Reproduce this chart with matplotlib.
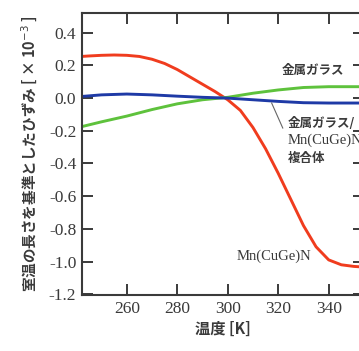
import matplotlib
matplotlib.use("Agg")
import matplotlib.pyplot as plt

# temperature [K] and strain values (x 10^-3)
temps = [242, 245, 250, 255, 260, 265, 270, 275, 280, 285, 290, 295, 300,
         305, 310, 315, 320, 325, 330, 335, 340, 345, 350, 355]
mn_cuge_n = [0.255, 0.258, 0.262, 0.264, 0.262, 0.255, 0.238, 0.212, 0.175, 0.13,
             0.085, 0.04, -0.01, -0.075, -0.18, -0.31, -0.46, -0.62, -0.78, -0.91,
             -0.99, -1.02, -1.03, -1.035]

temps_other = [242, 250, 260, 270, 280, 290, 300, 310, 320, 330, 340, 355]
metal_glass = [-0.175, -0.145, -0.11, -0.07, -0.035, -0.01, 0.005, 0.03, 0.05, 0.065, 0.07, 0.07]
composite = [0.01, 0.02, 0.025, 0.02, 0.012, 0.005, 0.0, -0.01, -0.02, -0.028, -0.03, -0.03]

xticks = [260, 280, 300, 320, 340]
yticks = [0.4, 0.2, 0.0, -0.2, -0.4, -0.6, -0.8, -1.0, -1.2]

jp = ['Noto Sans CJK JP', 'DejaVu Sans']
serif = 'Liberation Serif'
ink = '#3a3a3a'

fig = plt.figure(figsize=(3.59, 3.51), dpi=100)
ax = fig.add_axes([0.228, 0.1595, 0.786, 0.803])

ax.plot(temps, mn_cuge_n, color='#f03c1e', lw=2.1)
ax.plot(temps_other, metal_glass, color='#5ec23c', lw=2.1)
ax.plot(temps_other, composite, color='#1e3aa6', lw=2.1)

ax.set_xlim(242.2, 354)
ax.set_ylim(-1.205, 0.52)
ax.set_xticks(xticks)
ax.set_yticks(yticks)
ax.set_xticklabels([str(t) for t in xticks], family=serif, fontsize=12.5, color=ink)
ax.set_yticklabels(['%.1f' % v for v in yticks], family=serif, fontsize=12.5, color=ink)
ax.tick_params(direction='in', length=8, width=1.4, color=ink,
               top=True, right=True, pad=4)
for s in ax.spines.values():
    s.set_linewidth(1.5)
    s.set_color(ink)

ax.set_xlabel('温度 [K]', family=jp, fontsize=11, color=ink, fontweight='bold', labelpad=3)
ax.set_ylabel('室温の長さを基準としたひずみ [ × 10$^{-3}$ ]', family=jp, fontsize=10.5,
              color=ink, fontweight='bold', labelpad=6)

ax.text(346.3, 0.171, '金属ガラス', family=jp, fontsize=9, color=ink,
        ha='right', va='center', fontweight='bold')
ax.text(323.8, -0.153, '金属ガラス/', family=jp, fontsize=9, color=ink,
        ha='left', va='center', fontweight='bold')
ax.text(323.8, -0.257, 'Mn(CuGe)N', family=serif, fontsize=10.5, color=ink,
        ha='left', va='center')
ax.text(323.8, -0.367, '複合体', family=jp, fontsize=9, color=ink,
        ha='left', va='center', fontweight='bold')
ax.plot([317.4, 321.8], [-0.03, -0.183], color='#666666', lw=0.8)
ax.text(318.2, -0.97, 'Mn(CuGe)N', family=serif, fontsize=10.5, color=ink,
        ha='center', va='center')

fig.savefig('out.png', dpi=100)
